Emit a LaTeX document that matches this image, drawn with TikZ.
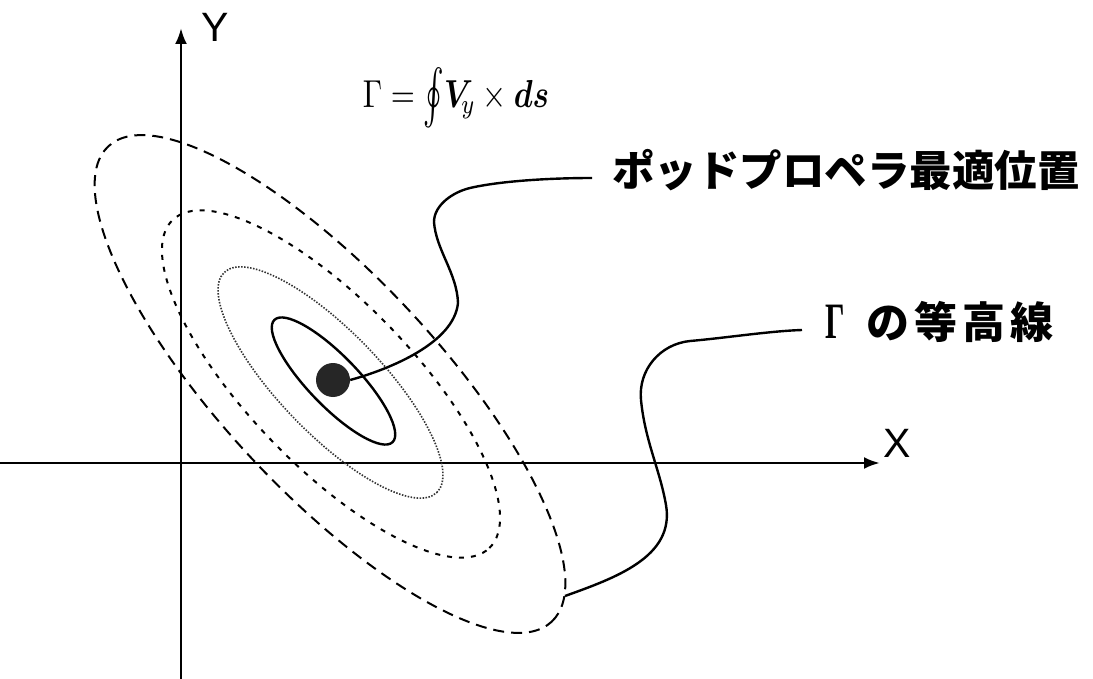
\documentclass[tikz,border=0pt]{standalone}
\usepackage{fontspec}
\usepackage{bm}
\usetikzlibrary{arrows.meta}
\newfontfamily\jp{Noto Sans CJK JP}
\newfontfamily\lsans{Liberation Sans}
\newfontfamily\lserif{Liberation Serif}
\begin{document}
\begin{tikzpicture}[x=1pt,y=-1pt,
  axisline/.style={line width=2.8pt,-{Latex[length=16pt,width=12pt]}},
  lead/.style={line width=2.4pt},
  ringA/.style={line width=2pt,dash pattern=on 11pt off 7pt},
  ringB/.style={line width=2pt,dash pattern=on 5pt off 7pt},
  ringC/.style={line width=1.6pt,black!80,dash pattern=on 1.5pt off 1.5pt},
  ringD/.style={line width=2.4pt},
  jplabel/.style={font=\jp\bfseries\fontsize{42.5}{48}\selectfont,inner sep=0pt,text height=37pt,text depth=5pt,anchor=west},
  jplabelb/.style={font=\jp\bfseries\fontsize{43}{48}\selectfont,inner sep=0pt,text height=37.5pt,text depth=5pt,anchor=west},
  axlabel/.style={font=\lsans\fontsize{41}{45}\selectfont,inner sep=0pt}]
\useasboundingbox[fill=white] (0,0) rectangle (1093,679);

% axes
\coordinate (ybot) at (181,679);
\coordinate (ytop) at (181,28);
\coordinate (xl) at (0,463);
\coordinate (xr) at (880,463);
\draw[axisline] (ybot) -- (ytop);
\draw[axisline] (xl) -- (xr);
\node[axlabel] (ylab) at (215,27) {Y};
\node[axlabel] (xlab) at (897,443) {X};

% contour ellipses
\coordinate (c1) at (330,384);
\coordinate (c2) at (331,384);
\coordinate (c3) at (330.5,382.5);
\coordinate (c4) at (333.5,381);
\draw[ringA,rotate around={-47:(c1)}] (c1) ellipse [x radius=325pt,y radius=108pt];
\draw[ringB,rotate around={-46:(c2)}] (c2) ellipse [x radius=228pt,y radius=82pt];
\draw[ringC,rotate around={-46:(c3)}] (c3) ellipse [x radius=153pt,y radius=51pt];
\draw[ringD,rotate around={-46:(c4)}] (c4) ellipse [x radius=85pt,y radius=25pt];

% optimum point
\node[circle,fill=black!85,minimum size=34pt,inner sep=0pt] (dot) at (333,380) {};

% formula
\node[anchor=base,inner sep=0pt] (formula) at (456,108)
  {\scalebox{3.1}[3.9]{$\Gamma=\vcenter{\hbox{\scalebox{1}[1.4]{$\oint$}}}\bm{V}_{\!y}\times\bm{ds}$}};

% labels
\node[jplabel] (lab1) at (612,171) {ポッドプロペラ最適位置};
\node[inner sep=0pt] (gam) at (835,322) {\scalebox{0.6}[1]{\lserif\bfseries\fontsize{51}{55}\selectfont Γ}};
\node[jplabelb] (lab2) at (866,322) {の\kern5pt 等\kern5pt 高\kern5pt 線};

% leader lines
\coordinate (l1end) at (592,178);
\draw[lead] (dot.east) .. controls (390,369) and (454,343) .. (458,303)
  .. controls (457,273) and (436,250) .. (434,222)
  .. controls (434,205) and (453,192) .. (470,188)
  .. controls (500,181) and (550,178) .. (l1end);

\coordinate (l2start) at (565,596);
\coordinate (l2end) at (802,330);
\draw[lead] (l2start) .. controls (615,578) and (675,557) .. (666,505)
  .. controls (660,470) and (645,441) .. (641,400)
  .. controls (638,370) and (660,344) .. (690,341)
  .. controls (725,338) and (770,331) .. (l2end);
\end{tikzpicture}
\end{document}
